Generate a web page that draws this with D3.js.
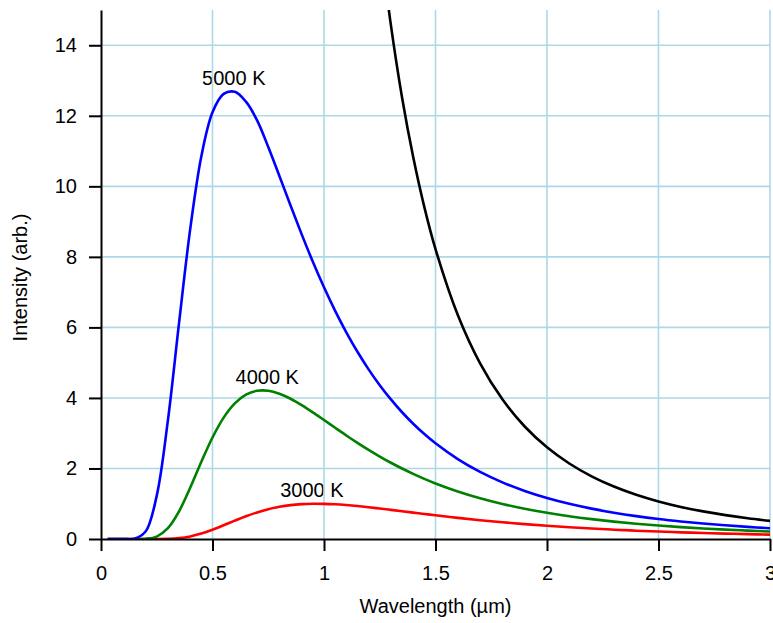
<!DOCTYPE html>
<html>
<head>
<meta charset="utf-8">
<script src="https://cdn.jsdelivr.net/npm/d3@7"></script>
<style>
  html, body { margin: 0; padding: 0; background: #fff; }
  svg { display: block; font-family: "Liberation Sans", Arial, Helvetica, sans-serif; }
</style>
</head>
<body>
<svg id="chart" width="773" height="623"></svg>
<script>
// ---- data ----
const wavelength = [0.03, 0.1, 0.15, 0.2, 0.25, 0.3, 0.35, 0.4, 0.45, 0.5, 0.55, 0.6, 0.65, 0.7, 0.75, 0.8, 0.85, 0.9, 0.95, 1.0,
  1.05, 1.1, 1.15, 1.2, 1.25, 1.3, 1.35, 1.4, 1.45, 1.5, 1.6, 1.7, 1.8, 1.9, 2.0, 2.1, 2.2, 2.3, 2.4, 2.5, 2.6, 2.7, 2.8, 2.9, 3.0];
const t5000 = [0, 0, 0.007, 0.211, 1.229, 3.364, 6.127, 8.786, 10.853, 12.10, 12.62, 12.68, 12.40, 11.870, 11.116, 10.294, 9.455, 8.638, 7.861, 7.137,
  6.470, 5.861, 5.309, 4.810, 4.360, 3.957, 3.594, 3.268, 2.975, 2.713, 2.265, 1.901, 1.605, 1.363, 1.163, 0.998, 0.861, 0.746, 0.649, 0.567, 0.498, 0.438, 0.388, 0.344, 0.306];
const t4000 = [0, 0, 0.0001, 0.006, 0.069, 0.306, 0.784, 1.454, 2.191, 2.879, 3.441, 3.844, 4.092, 4.202, 4.203, 4.119, 3.977, 3.795, 3.590, 3.373,
  3.153, 2.936, 2.727, 2.527, 2.339, 2.162, 1.998, 1.846, 1.705, 1.576, 1.348, 1.155, 0.994, 0.857, 0.742, 0.645, 0.563, 0.492, 0.432, 0.381, 0.337, 0.299, 0.266, 0.238, 0.213];
const t3000 = [0, 0, 0, 0, 0.0006, 0.006, 0.026, 0.073, 0.153, 0.262, 0.388, 0.520, 0.645, 0.754, 0.844, 0.912, 0.960, 0.988, 1.000, 0.997,
  0.984, 0.962, 0.934, 0.901, 0.864, 0.826, 0.787, 0.748, 0.710, 0.672, 0.600, 0.534, 0.474, 0.421, 0.374, 0.333, 0.296, 0.264, 0.236, 0.211, 0.189, 0.170, 0.153, 0.138, 0.125];
// classical (Rayleigh-Jeans) curve, black
const rjWavelength = [1.25, 1.3, 1.35, 1.4, 1.45, 1.5, 1.6, 1.7, 1.8, 1.9, 2.0, 2.1, 2.2, 2.3, 2.4, 2.5, 2.6, 2.7, 2.8, 2.9, 3.0];
const rj5000 = [17.04, 14.57, 12.52, 10.83, 9.41, 8.22, 6.35, 4.98, 3.96, 3.19, 2.60, 2.14, 1.776, 1.487, 1.254, 1.065, 0.910, 0.783, 0.677, 0.588, 0.514];

const seriesNames = ["3000 K", "4000 K", "5000 K"];
const seriesValues = [t3000, t4000, t5000];
const seriesColors = ["#ff0000", "#008000", "#0000ff"];

const xTicks = [0, 0.5, 1, 1.5, 2, 2.5, 3];
const yTicks = [0, 2, 4, 6, 8, 10, 12, 14];
const xTitle = "Wavelength (\u00b5m)";
const yTitle = "Intensity (arb.)";

// ---- layout ----
const svg = d3.select("#chart");
const pLeft = 101, pRight = 770, pTop = 10, pBottom = 539;
const x = d3.scaleLinear().domain([0, 3]).range([pLeft, pRight]);
const y = d3.scaleLinear().domain([0, 15]).range([pBottom, pTop]);
const fontSize = 20;

svg.append("defs").append("clipPath").attr("id", "plotClip")
  .append("rect").attr("x", pLeft).attr("y", pTop).attr("width", pRight - pLeft).attr("height", pBottom - pTop);

// curve labels (drawn under grid)
const labels = svg.append("g").attr("font-size", fontSize).attr("text-anchor", "middle").attr("fill", "#000");
seriesValues.forEach((vals, i) => {
  const iMax = d3.maxIndex(vals);
  labels.append("text")
    .attr("x", x(wavelength[iMax]) - 1)
    .attr("y", y(vals[iMax]) - 7)
    .text(seriesNames[i]);
});

// grid
const grid = svg.append("g").attr("stroke", "#add8e6").attr("stroke-width", 1.6);
grid.selectAll("line.v").data(xTicks.filter(d => d > 0)).join("line").attr("class", "v")
  .attr("x1", d => x(d)).attr("x2", d => x(d)).attr("y1", pTop).attr("y2", pBottom);
grid.selectAll("line.h").data(yTicks.filter(d => d > 0)).join("line").attr("class", "h")
  .attr("x1", pLeft).attr("x2", pRight).attr("y1", d => y(d)).attr("y2", d => y(d));

// curves
const line = d3.line().x(d => x(d[0])).y(d => y(d[1])).curve(d3.curveCatmullRom.alpha(0.5));
const curves = svg.append("g").attr("clip-path", "url(#plotClip)").attr("fill", "none")
  .attr("stroke-width", 2.6).attr("stroke-linejoin", "round");
seriesValues.forEach((vals, i) => {
  curves.append("path").attr("stroke", seriesColors[i])
    .attr("d", line(wavelength.map((w, j) => [w, vals[j]])));
});
curves.append("path").attr("stroke", "#000")
  .attr("d", line(rjWavelength.map((w, j) => [w, rj5000[j]])));

// axes
const xAxis = svg.append("g").attr("transform", `translate(0,${pBottom})`)
  .call(d3.axisBottom(x).tickValues(xTicks).tickFormat(d3.format("")).tickSize(12).tickSizeOuter(0).tickPadding(15));
const yAxis = svg.append("g").attr("transform", `translate(${pLeft},0)`)
  .call(d3.axisLeft(y).tickValues(yTicks).tickFormat(d3.format("")).tickSize(12).tickSizeOuter(0).tickPadding(12));
[xAxis, yAxis].forEach(a => {
  a.attr("font-size", fontSize).attr("font-family", null);
  a.selectAll("path, line").attr("stroke", "#000").attr("stroke-width", 2);
  a.selectAll("text").attr("fill", "#000");
});

// titles
svg.append("text").attr("x", (pLeft + pRight) / 2).attr("y", 613)
  .attr("text-anchor", "middle").attr("font-size", fontSize).text(xTitle);
svg.append("text").attr("transform", `translate(27,${(pTop + pBottom) / 2 + 3}) rotate(-90)`)
  .attr("text-anchor", "middle").attr("font-size", fontSize).text(yTitle);
</script>
</body>
</html>
